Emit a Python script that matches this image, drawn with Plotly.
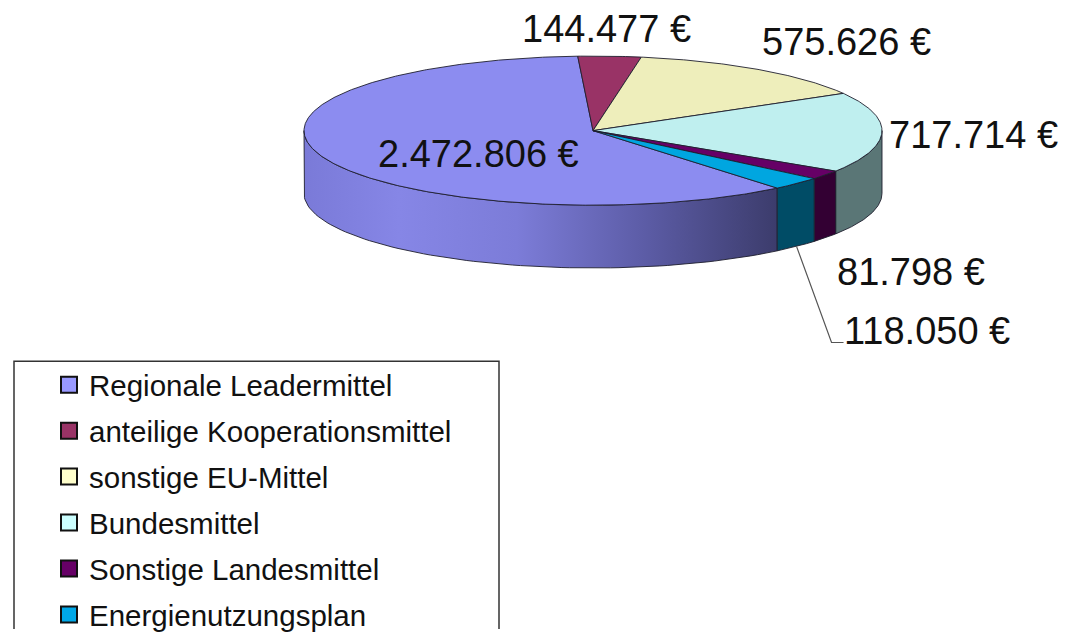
import numpy as np
import plotly.graph_objects as go

# ---------------- data ----------------
categories = ["Regionale Leadermittel", "anteilige Kooperationsmittel", "sonstige EU-Mittel",
              "Bundesmittel", "Sonstige Landesmittel", "Energienutzungsplan"]
values = [2472806, 144477, 575626, 717714, 81798, 118050]
value_labels = ["2.472.806 €", "144.477 €", "575.626 €", "717.714 €", "81.798 €", "118.050 €"]

# ---------------- style ----------------
W, H = 1068, 641
PAGE_OFF = 8  # default body margin of the html page
CX, CY, RX, RY, DEPTH = 593, 133, 289, 76, 64
ROTATION = 140.4  # degrees, clockwise from top, start of first slice
top_colors = ["#8C8CF0", "#993366", "#EEEEBB", "#BFEFEF", "#660066", "#00A6E0"]
side_colors = [None, "#4D1933", "#77775E", "#5A7676", "#330033", "#004C66"]
legend_colors = ["#9999FF", "#993366", "#FFFFCC", "#CCFFFF", "#660066", "#00A8E8"]
leader_side_scale = [[0, "#7A7AD8"], [0.2, "#8686E6"], [0.45, "#7C7CD8"],
                     [0.72, "#5C5CA6"], [1, "#3C3C6C"]]
edge = dict(color="#1E1E2E", width=0.9)
FONT = "Liberation Sans, Arial, sans-serif"
LABEL_SIZE = 38
# label offsets (px) relative to slice mid-point on the ellipse rim
label_offsets = [(155, -4), (-3, -28), (88, -28), (92, 3), (86, 99), (None, None)]


def pt(theta_deg, dy=0.0):
    t = np.radians(theta_deg)
    return CX + RX * np.sin(t), CY - RY * np.cos(t) + dy


fig = go.Figure()

total = float(sum(values))
spans = [v / total * 360.0 for v in values]
starts = []
a = ROTATION
for s in spans:
    starts.append(a)
    a += s

# side walls (front half: 90..270 deg)
for i, (a0, s) in enumerate(zip(starts, spans)):
    a1 = a0 + s
    for shift in (0, -360, 360):
        lo, hi = max(a0 + shift, 90), min(a1 + shift, 270)
        if hi > lo:
            ts = np.linspace(lo, hi, 80)
            xs_top, ys_top = pt(ts)
            xs_bot, ys_bot = pt(ts[::-1], DEPTH)
            xs = np.concatenate([xs_top, xs_bot, xs_top[:1]])
            ys = np.concatenate([ys_top, ys_bot, ys_top[:1]])
            kw = dict(x=xs, y=ys, mode="lines", fill="toself", line=edge,
                      showlegend=False, hoverinfo="skip")
            if side_colors[i] is None:
                kw["fillgradient"] = dict(type="horizontal", colorscale=leader_side_scale)
            else:
                kw["fillcolor"] = side_colors[i]
            fig.add_trace(go.Scatter(**kw))

# top faces
for i, (a0, s) in enumerate(zip(starts, spans)):
    ts = np.linspace(a0, a0 + s, max(4, int(s * 2)))
    xs, ys = pt(ts)
    xs = np.concatenate([[CX], xs, [CX]])
    ys = np.concatenate([[CY], ys, [CY]])
    fig.add_trace(go.Scatter(x=xs, y=ys, mode="lines", fill="toself", fillcolor=top_colors[i],
                             line=edge, showlegend=False, hoverinfo="skip"))

# legend entries
for i, name in enumerate(categories):
    fig.add_trace(go.Scatter(x=[None], y=[None], mode="markers", name=name, legendgroup=f"g{i}",
                             marker=dict(symbol="square", size=16, color=legend_colors[i],
                                         line=dict(color="#111111", width=2))))

# value labels
annotations = []
for i, lab in enumerate(value_labels):
    mid = starts[i] + spans[i] / 2
    mx, my = pt(mid)
    dx, dy = label_offsets[i]
    if dx is None:
        bx, by = pt(mid, DEPTH)
        ex, ey = bx + 35, by + 98
        fig.add_trace(go.Scatter(x=[bx, ex, ex + 12], y=[by, ey, ey], mode="lines",
                                 line=dict(color="#555555", width=1.2),
                                 showlegend=False, hoverinfo="skip"))
        annotations.append(dict(x=ex + 10, y=ey - 12, text=lab, showarrow=False, xanchor="left",
                                yanchor="middle",
                                font=dict(size=LABEL_SIZE, color="#111111", family=FONT)))
    else:
        annotations.append(dict(x=mx + dx, y=my + dy, text=lab, showarrow=False,
                                xanchor="center", yanchor="middle",
                                font=dict(size=LABEL_SIZE, color="#111111", family=FONT)))

FW, FH = W - PAGE_OFF, H - PAGE_OFF
fig.update_layout(
    width=FW, height=FH, margin=dict(l=0, r=0, t=0, b=0),
    paper_bgcolor="white", plot_bgcolor="white",
    xaxis=dict(range=[PAGE_OFF, W], visible=False, fixedrange=True),
    yaxis=dict(range=[H, PAGE_OFF], visible=False, fixedrange=True),
    annotations=annotations,
    shapes=[dict(type="rect", xref="x", yref="y", x0=14, y0=368, x1=499, y1=H + 20,
                 line=dict(color="#333333", width=1.5), fillcolor="rgba(0,0,0,0)")],
    legend=dict(x=(49 - PAGE_OFF) / FW, y=1 - (366 - PAGE_OFF) / FH, xanchor="left", yanchor="top",
                font=dict(size=29.5, color="#111111", family=FONT),
                bgcolor="rgba(0,0,0,0)", borderwidth=0, tracegroupgap=4.6,
                itemsizing="trace"),
    showlegend=True,
)

fig.write_html("out.html")
